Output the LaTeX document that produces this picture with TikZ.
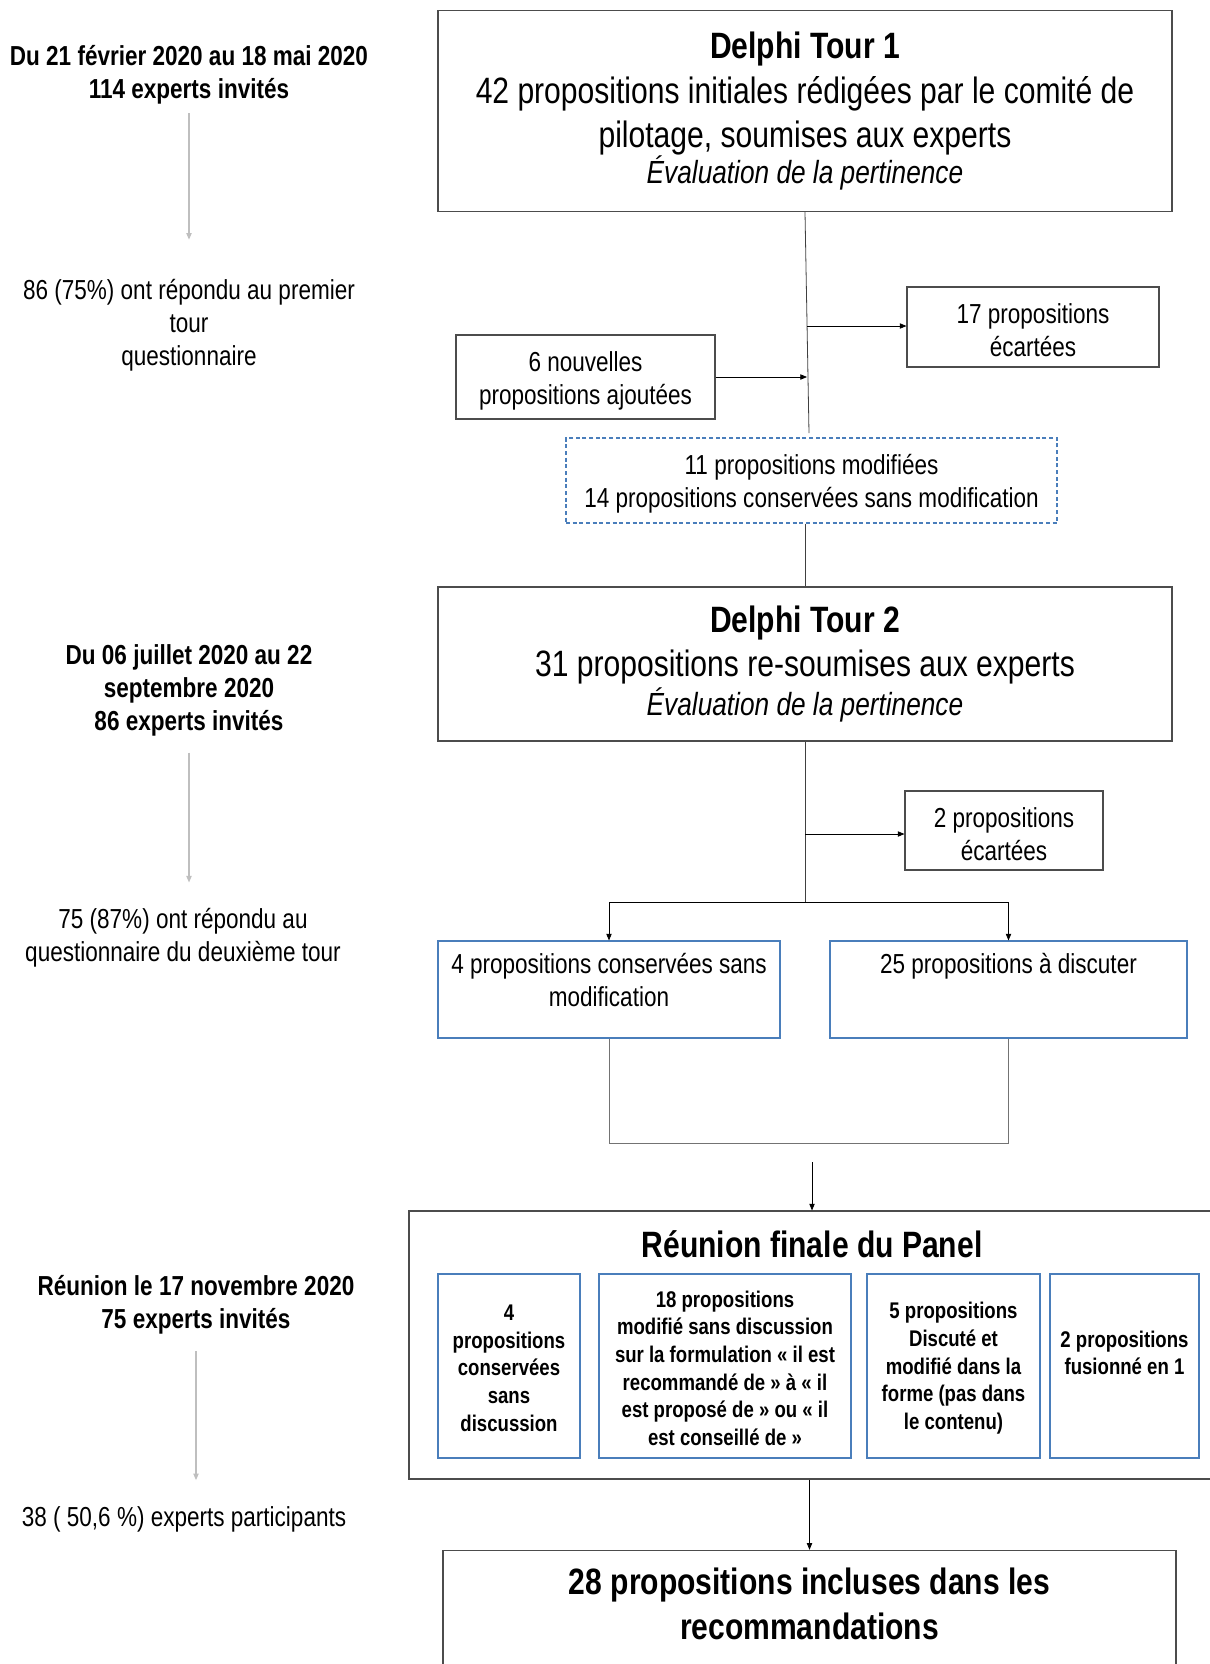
\documentclass[tikz,border=0pt]{standalone}
\usepackage{fontspec}
\setmainfont[FakeStretch=0.82]{Liberation Sans}
\usetikzlibrary{arrows.meta,positioning}
\definecolor{boxblue}{HTML}{4A7EBB}
\newcommand{\fsmall}{\fontsize{20.6}{24.75}\selectfont}
\newcommand{\fbig}{\fontsize{27.5}{33.5}\selectfont}
\newcommand{\fev}{\fontsize{24}{29}\selectfont}
\newcommand{\finner}{\fontsize{17}{20.7}\selectfont}

\begin{document}
\begin{tikzpicture}[x=0.75pt,y=-0.75pt,
  every node/.style={font=\fsmall},
  txt/.style={align=center},
  tourbox/.style={draw=black!70,line width=0.8pt,align=center,font=\fbig,minimum width=550.5pt},
  plainbox/.style={draw=black!70,line width=0.8pt},
  bluebox/.style={draw=boxblue,line width=0.8pt},
  boxtext/.style={label={[txt,anchor=center,yshift=-2.6pt]center:{#1}}},
  innerbox/.style={bluebox,minimum height=138pt},
  innertext/.style={label={[txt,font=\finner\bfseries,anchor=center,yshift=-1.6pt]center:{#1}}},
  arr/.style={-{Triangle[length=5pt,width=4pt]},black,line width=0.6pt},
  grayarr/.style={-{Triangle[length=5pt,width=4pt]},black!25,line width=0.9pt},
  link/.style={black!75,line width=0.6pt}]
    \useasboundingbox (0,0) rectangle (1210,1664);
    \node [txt,font=\fsmall\bfseries] (L1) at (189,75) {Du 21 février 2020 au 18 mai 2020\\114 experts invités};
    \node [txt] (L2) at (189,325) {86 (75\%) ont répondu au premier\\tour\\questionnaire};
    \node [txt,font=\fsmall\bfseries] (L3) at (189,690) {Du 06 juillet 2020 au 22\\septembre 2020\\86 experts invités};
    \node [txt] (L4) at (183,938) {75 (87\%) ont répondu au\\questionnaire du deuxième tour};
    \node [txt,font=\fsmall\bfseries] (L5) at (196,1305) {Réunion le 17 novembre 2020\\75 experts invités};
    \node [txt] (L6) at (184,1519) {38 ( 50,6 \%) experts participants};
    \draw [grayarr,shorten <=3pt,shorten >=26pt] (L1.south) -- (L1.south |- L2.north);
    \draw [grayarr,shorten <=9pt,shorten >=16pt] (L3.south) -- (L3.south |- L4.north);
    \draw [grayarr,shorten <=9pt,shorten >=16pt] (L5.south) -- (L5.south |- L6.north);
    \node [tourbox,minimum height=150.75pt] (t1) at (805,111)
      {\textbf{Delphi Tour 1}\\42 propositions initiales rédigées par le comité de\\pilotage, soumises aux experts\\[-7pt]{\fev\itshape Évaluation de la pertinence}};
    \node [plainbox,minimum width=189pt,minimum height=60pt,boxtext={17 propositions\\écartées}] (d1) at (1033,327) {};
    \node [plainbox,minimum width=194.25pt,minimum height=63pt,boxtext={6 nouvelles\\propositions ajoutées}] (new) at (585.5,377) {};
    \node [bluebox,dash pattern=on 3pt off 2pt,minimum width=368.25pt,minimum height=63.75pt,
      boxtext={11 propositions modifiées\\14 propositions conservées sans modification}] (mod) at (811.5,480.5) {};
    \node [tourbox,minimum height=115.5pt] (t2) at (805,664)
      {\textbf{Delphi Tour 2}\\31 propositions re-soumises aux experts\\[-4.5pt]{\fev\itshape Évaluation de la pertinence}};
    \coordinate (sp1) at (809,433);
    \coordinate (out1) at (807,326);
    \coordinate (in1) at (807,377);
    \draw [link] (t1.south) -- (sp1);
    \draw [arr] (out1) -- (out1 -| d1.west);
    \draw [arr] (new.east) -- (in1);
    \draw [link] (t2.north |- mod.south) -- (t2.north);
    \node [plainbox,minimum width=148.5pt,minimum height=59.25pt,boxtext={2 propositions\\écartées}] (d2) at (1004,830.5) {};
    \node [bluebox,minimum width=256.5pt,minimum height=72.75pt,
      label={[txt,anchor=north,yshift=-6.2pt]north:{4 propositions conservées sans\\modification}}] (keep) at (609,989.5) {};
    \node [bluebox,minimum width=267.75pt,minimum height=72.75pt,
      label={[txt,anchor=north,yshift=-6.2pt]north:25 propositions à discuter}] (disc) at (1008.5,989.5) {};
    \coordinate (sp2) at (805,902);
    \coordinate (out2) at (805,834);
    \draw [link] (t2.south) -- (sp2);
    \draw [arr] (out2) -- (out2 -| d2.west);
    \draw [arr] (sp2) -| (keep.north);
    \draw [arr] (sp2) -| (disc.north);
    \coordinate (join) at (809,1143);
    \draw [link,black!55] (keep.south) |- (join) -| (disc.south);
    \coordinate (gap) at (812,1162);
    \node [plainbox,minimum width=604.5pt,minimum height=201pt,
      label={[font=\fbig\bfseries,anchor=north,yshift=-11.5pt]north:Réunion finale du Panel}] (panel) at (812,1345) {};
    \draw [arr] (gap) -- (panel.north);
    \node [innerbox,minimum width=106.5pt,innertext={4\\propositions\\conservées\\sans\\discussion}] (p1) at (509,1366) {};
    \node [innerbox,minimum width=189pt,
      innertext={18 propositions\\modifié sans discussion\\sur la formulation « il est\\recommandé de » à « il\\est proposé de » ou « il\\est conseillé de »}] (p2) at (725,1366) {};
    \node [innerbox,minimum width=129.75pt,innertext={5 propositions\\Discuté et\\modifié dans la\\forme (pas dans\\le contenu)}] (p3) at (953.5,1366) {};
    \node [innerbox,minimum width=111.75pt,
      label={[txt,font=\finner\bfseries,anchor=center,yshift=9.75pt]center:{2 propositions\\fusionné en 1}}] (p4) at (1124.5,1366) {};
    \node [plainbox,minimum width=549.75pt,minimum height=100pt,
      label={[txt,font=\fbig\bfseries,anchor=north,yshift=-10.3pt]north:{28 propositions incluses dans les\\recommandations}}] (final) at (809.5,1617) {};
    \draw [arr] (final.north |- panel.south) -- (final.north);
\end{tikzpicture}
\end{document}
